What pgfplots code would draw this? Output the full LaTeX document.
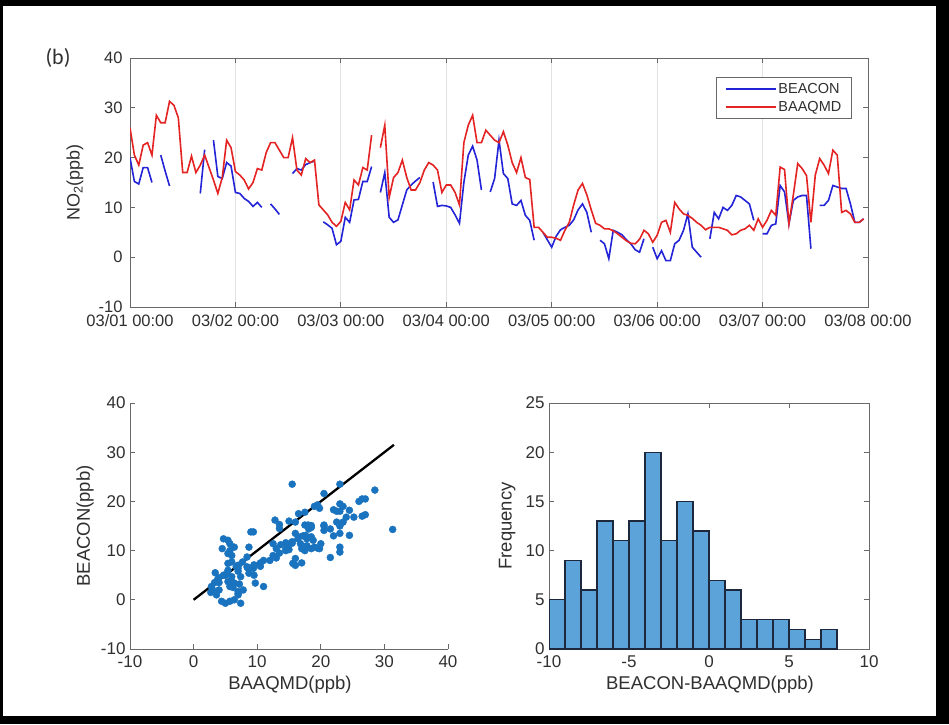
\documentclass[border=0pt]{standalone}
\usepackage{pgfplots}
\pgfplotsset{compat=1.18}
\usepackage{pgfplotstable}
\usepackage{fontspec}
\setmainfont{Liberation Sans}
\newfontfamily\panelfont{Carlito}
\definecolor{axgray}{RGB}{105,105,105}
\definecolor{txtgray}{RGB}{48,48,48}
\definecolor{gridgray}{RGB}{226,226,226}
\definecolor{beacon}{RGB}{35,35,215}
\definecolor{baaqmd}{RGB}{228,35,35}
\definecolor{dotblue}{RGB}{25,115,190}
\definecolor{barblue}{RGB}{92,163,218}
\definecolor{baredge}{RGB}{30,40,60}

\pgfplotstableread{
h R B
0 26 20
1 20.5 15.2
2 18.5 14.7
3 22.5 18
4 23 18
5 20.5 15
6 28.5 nan
7 27 20.5
8 27 17.3
9 31.3 14.3
10 30.5 nan
11 28 nan
12 17 nan
13 17 nan
14 20.3 nan
15 17 nan
16 18.5 12.8
17 20.5 21.6
18 18 nan
19 15.5 23.5
20 12.8 16.2
21 16 15.8
22 23.5 19
23 22 18.3
24 17.2 13
25 16.5 12.8
26 15.5 11.8
27 13.7 11.2
28 15 10.2
29 17.8 11
30 17.5 10
31 21 nan
32 23 10.7
33 23 9.7
34 21.5 8.6
35 20 nan
36 20 nan
37 24 16.8
38 17.5 17.8
39 16.5 17.5
40 19.8 18.6
41 19 19
42 19.5 19.3
43 10.5 nan
44 9.5 7.1
45 8.5 6.5
46 7 5.8
47 6.2 2.5
48 7.2 3.2
49 11 8
50 9.5 7
51 15.5 11.5
52 14.5 11.6
53 18 15.2
54 17.5 15.2
55 24.5 18.2
56 nan nan
57 22 13
58 26.5 17
59 12 8
60 16 7
61 17 7.5
62 19.5 10.5
63 16 13.5
64 13.5 14.5
65 13.5 15.3
66 15 16
67 17.5 nan
68 19 nan
69 18.5 15.1
70 17.5 10.2
71 13 10.4
72 14.5 10.3
73 14.5 10
74 13 8.5
75 10.5 6.8
76 23 15
77 26.5 20.5
78 28.5 22.3
79 23 19.5
80 23 13.5
81 25.5 nan
82 24.5 13.1
83 23.5 15.8
84 23 23.5
85 25.2 16.8
86 22.5 15.8
87 19 10.7
88 17 10.4
89 20 11.4
90 16 8.4
91 15.6 7.4
92 6 3.4
93 6 nan
94 5 5
95 4 3.5
96 4 2
97 3.8 4.2
98 3.4 5.5
99 5.4 6
100 7 6.4
101 10.5 7.5
102 13.5 9.5
103 14.8 10.7
104 12.5 9
105 9.5 5
106 6.8 nan
107 6.4 3.4
108 5.7 2.7
109 5.7 -0.3
110 5.3 5.4
111 4.7 5
112 4 4.5
113 3.3 3.5
114 2.8 2.7
115 2.7 1.5
116 3.6 1
117 5.4 3.7
118 4.7 nan
119 3 2
120 4.4 -0.3
121 7 1.3
122 7.4 -0.7
123 5 -0.7
124 11 2.7
125 9.7 3.4
126 8.7 5.4
127 8.4 8.7
128 7.8 2
129 7 1
130 6.4 0
131 5.5 nan
132 6 3.7
133 6 9
134 6 7.7
135 5.7 10
136 5.4 9.4
137 4.5 10.4
138 4.7 12.4
139 5.4 12.1
140 5.7 11.4
141 6.4 10.7
142 5.4 7.4
143 7.7 nan
144 6 4.7
145 7.4 4.7
146 9.4 6.4
147 8.4 6.7
148 18.1 14.4
149 17.6 13.1
150 6.7 6.7
151 12.5 11.4
152 18.8 12.1
153 17.8 12.4
154 16.4 12.4
155 7 1.7
156 16.5 nan
157 19.8 10.4
158 18.5 10.4
159 16.8 11.4
160 21.5 14.4
161 20.5 14.1
162 9 13.8
163 9.4 13.8
164 8.7 10.7
165 7 7
166 7 7
167 7.7 7.7
}\ts

\pgfplotstableread{
left count
-10 5
-9 9
-8 6
-7 13
-6 11
-5 13
-4 20
-3 11
-2 15
-1 12
0 7
1 6
2 3
3 3
4 3
5 2
6 1
7 2
8 2
}\hist

\pgfplotsset{
  myaxis/.style={
    scale only axis,
    axis line style={axgray, line width=1pt},
    every tick/.style={axgray, line width=1pt},
    tick align=inside,
    major tick length=5pt,
    ticklabel style={txtgray},
    label style={txtgray},
  },
}

\begin{document}
\begin{tikzpicture}
\fill[black] (0pt,0pt) rectangle (949pt,724pt);
\fill[white] (3pt,8pt) rectangle (936pt,718pt);

\node[txtgray, font=\panelfont\fontsize{22}{26}\selectfont] at (58pt,666pt) {(b)};

% top time series
\begin{axis}[myaxis,
  at={(130pt,417pt)}, anchor=south west,
  width=738pt, height=249pt,
  font=\fontsize{16.5}{19}\selectfont,
  xmin=0, xmax=168, ymin=-10, ymax=40,
  xtick={0,24,48,72,96,120,144,168},
  xticklabels={03/01 00:00,03/02 00:00,03/03 00:00,03/04 00:00,03/05 00:00,03/06 00:00,03/07 00:00,03/08 00:00},
  ytick={-10,0,10,20,30,40},
  yticklabels={-10,0,10,20,30,40},
  xticklabel style={yshift=-4pt},
  yticklabel style={xshift=-4pt},
  tick pos=both,
  xmajorgrids, grid style={gridgray, line width=0.9pt},
  ylabel={NO\textsubscript{2}(ppb)},
  ylabel style={at={(axis description cs:-0.0745,0.5)}, anchor=center, font=\fontsize{18}{21}\selectfont},
  unbounded coords=jump,
  legend style={at={(axis description cs:0.978,0.924)}, anchor=north east,
    draw=axgray, line width=0.9pt, font=\fontsize{14.5}{17}\selectfont,
    text=txtgray, inner xsep=8pt, inner ysep=4pt, row sep=2pt,
    nodes={inner sep=2pt}},
  legend cell align=left,
  legend image code/.code={\draw[#1] (0pt,0pt) -- (50pt,0pt);},
]
\addplot[beacon, line width=1.6pt] table[x=h, y=B] {\ts};
\addlegendentry{BEACON}
\addplot[baaqmd, line width=1.6pt] table[x=h, y=R] {\ts};
\addlegendentry{BAAQMD}
\end{axis}

% scatter
\begin{axis}[myaxis,
  at={(130pt,75pt)}, anchor=south west,
  width=318pt, height=246pt,
  font=\fontsize{17}{20}\selectfont,
  xmin=-10, xmax=40, ymin=-10, ymax=40,
  axis lines*=left, axis line style={-},
  xtick={-10,0,10,20,30,40}, xticklabels={-10,0,10,20,30,40},
  ytick={-10,0,10,20,30,40}, yticklabels={-10,0,10,20,30,40},
  xticklabel style={yshift=-3pt},
  yticklabel style={xshift=-1pt},
  xlabel={BAAQMD(ppb)}, ylabel={BEACON(ppb)},
  label style={font=\fontsize{18.5}{22}\selectfont},
  xlabel style={at={(axis description cs:0.503,-0.146)}, anchor=center},
  ylabel style={at={(axis description cs:-0.1415,0.5)}, anchor=center},
]
\addplot[only marks, mark=*, mark size=3.5pt, mark options={draw=dotblue, fill=dotblue}] table[x=R, y=B] {\ts};
\addplot[black, line width=2.3pt] coordinates {(0,0) (31.5,31.5)};
\end{axis}

% histogram
\begin{axis}[myaxis,
  at={(549pt,75pt)}, anchor=south west,
  width=320pt, height=246pt,
  font=\fontsize{17}{20}\selectfont,
  xmin=-10, xmax=10, ymin=0, ymax=25,
  xtick={-10,-5,0,5,10}, xticklabels={-10,-5,0,5,10},
  ytick={0,5,10,15,20,25}, yticklabels={0,5,10,15,20,25},
  xticklabel style={yshift=-3pt},
  yticklabel style={xshift=-1pt},
  tick pos=both,
  xlabel={BEACON-BAAQMD(ppb)}, ylabel={Frequency},
  label style={font=\fontsize{18.5}{22}\selectfont},
  xlabel style={at={(axis description cs:0.503,-0.146)}, anchor=center},
  ylabel style={at={(axis description cs:-0.131,0.5)}, anchor=center},
]
\addplot[ybar interval, fill=barblue, draw=baredge, line width=1.2pt] table[x=left, y=count] {\hist};
\end{axis}

\pgfresetboundingbox
\path[use as bounding box] (0pt,0pt) rectangle (949pt,724pt);
\end{tikzpicture}
\end{document}
